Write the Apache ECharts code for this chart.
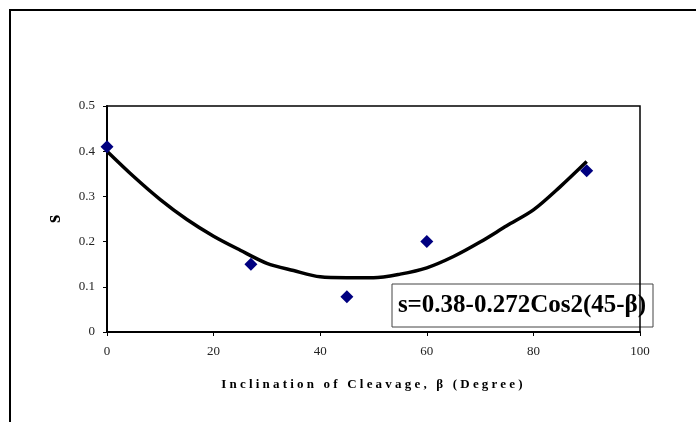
<!DOCTYPE html>
<html>
<head>
<meta charset="utf-8">
<script src="https://cdn.jsdelivr.net/npm/echarts@6/dist/echarts.min.js"></script>
<style>
html,body{margin:0;padding:0;background:#fff;}
#chart{width:696px;height:422px;}
</style>
</head>
<body>
<div id="chart"></div>
<script>
// Measured points (beta in degrees, s)
const measuredBeta = [0, 27, 45, 60, 90];
const measuredS = [0.41, 0.15, 0.078, 0.20, 0.357];
// Fitted curve
const curveBeta = [0, 5, 10, 15, 20, 25, 30, 35, 40, 45, 50, 55, 60, 65, 70, 75, 80, 85, 90];
const curveS = [0.400, 0.344, 0.293, 0.249, 0.212, 0.181, 0.152, 0.136, 0.122, 0.120, 0.120, 0.128, 0.142, 0.167, 0.199, 0.235, 0.270, 0.321, 0.377];
const xTicks = [0, 20, 40, 60, 80, 100];
const yTicks = [0, 0.1, 0.2, 0.3, 0.4, 0.5];
const xTitle = 'Inclination of Cleavage, β (Degree)';
const yTitle = 's';
const equation = 's=0.38-0.272Cos2(45-β)';

// Spread the x-axis title letters as in the original (canvas letterSpacing),
// every other text is drawn with no spacing.
(function () {
  const proto = CanvasRenderingContext2D.prototype;
  const origFill = proto.fillText;
  proto.fillText = function (text) {
    if ('letterSpacing' in this) {
      const want = (text === xTitle) ? '3.2px' : '0px';
      if (this.letterSpacing !== want) {
        const f = this.font;
        this.letterSpacing = want;
        this.font = f;
      }
    }
    return origFill.apply(this, arguments);
  };
})();

const serif = '"Liberation Serif", "Times New Roman", serif';
const chart = echarts.init(document.getElementById('chart'), null, {renderer: 'canvas'});
chart.setOption({
  animation: false,
  backgroundColor: '#fff',
  grid: {left: 107, right: 56, top: 106, bottom: 90, show: true, borderColor: '#000', borderWidth: 1.5, z: 3},
  xAxis: {
    type: 'value', min: xTicks[0], max: xTicks[xTicks.length - 1], interval: 20,
    splitLine: {show: false},
    axisLine: {show: true, onZero: false, lineStyle: {color: '#000', width: 2}},
    axisTick: {show: true, length: 4, lineStyle: {color: '#000'}},
    axisLabel: {margin: 13, color: '#222', fontFamily: serif, fontSize: 13},
    name: xTitle, nameLocation: 'middle', nameGap: 46,
    nameTextStyle: {fontFamily: serif, fontWeight: 'bold', fontSize: 13, color: '#000'}
  },
  yAxis: {
    type: 'value', min: yTicks[0], max: yTicks[yTicks.length - 1], interval: 0.1,
    splitLine: {show: false},
    axisLine: {show: true, onZero: false, lineStyle: {color: '#000', width: 2}},
    axisTick: {show: true, length: 4, lineStyle: {color: '#000'}},
    axisLabel: {margin: 12, color: '#222', fontFamily: serif, fontSize: 13},
    name: yTitle, nameLocation: 'middle', nameGap: 42, nameRotate: 90,
    nameTextStyle: {fontFamily: serif, fontWeight: 'bold', fontSize: 21, color: '#000'}
  },
  graphic: [
    {type: 'line', shape: {x1: 9, y1: 10, x2: 696, y2: 10}, style: {stroke: '#000', lineWidth: 2}, z: 10},
    {type: 'line', shape: {x1: 10, y1: 10, x2: 10, y2: 422}, style: {stroke: '#000', lineWidth: 2}, z: 10},
    {type: 'rect', shape: {x: 392, y: 284, width: 261, height: 43}, style: {fill: '#fff', stroke: '#444', lineWidth: 1}, z: 1},
    {type: 'text', x: 522, y: 306, z: 2, style: {text: equation, fill: '#000', font: 'bold 25px ' + serif, align: 'center', verticalAlign: 'middle'}}
  ],
  series: [
    {
      type: 'line', data: curveBeta.map((b, i) => [b, curveS[i]]),
      showSymbol: false, smooth: 0.3, lineStyle: {color: '#000', width: 3.5}, z: 4
    },
    {
      type: 'scatter', data: measuredBeta.map((b, i) => [b, measuredS[i]]),
      symbol: 'diamond', symbolSize: 13, itemStyle: {color: '#000080', opacity: 1}, z: 5
    }
  ]
});
</script>
</body>
</html>
